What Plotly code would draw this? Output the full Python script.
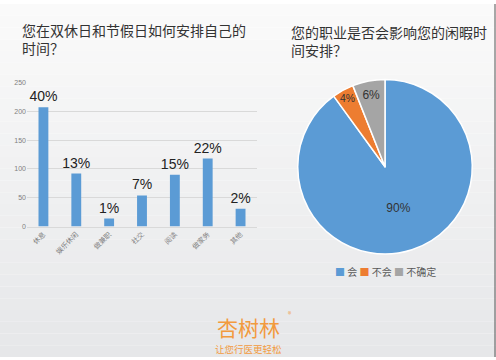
import plotly.graph_objects as go

# ---- data ----
bar_categories = ["休息", "娱乐休闲", "做兼职", "社交", "阅读", "做家务", "其他"]
bar_values = [207, 92, 14, 54, 90, 118, 31]
bar_percent_labels = ["40%", "13%", "1%", "7%", "15%", "22%", "2%"]
y_ticks = [0, 50, 100, 150, 200, 250]

pie_labels = ["会", "不会", "不确定"]
pie_values = [90, 4, 6]
pie_text = ["90%", "4%", "6%"]

left_title = "您在双休日和节假日如何安排自己的<br>时间？"
right_title = "您的职业是否会影响您的闲暇时<br>间安排？"

W, H = 496, 360
FONT = "Noto Sans CJK SC"
BLUE = "#5b9bd5"
ORANGE = "#ed7d31"
GRAY = "#a5a5a5"
PIE_COLORS = [BLUE, ORANGE, GRAY]
LOGO = "#f29a3e"

fig = go.Figure()

fig.add_trace(go.Bar(
    x=bar_categories, y=bar_values, text=bar_percent_labels,
    textposition="outside", constraintext="none", cliponaxis=False,
    textfont=dict(family="Liberation Sans", size=14, color="#222"),
    marker=dict(color=BLUE, line=dict(width=0)),
    width=0.3, showlegend=False, hoverinfo="skip",
))

fig.add_trace(go.Pie(
    labels=pie_labels, values=pie_values, text=pie_text,
    textinfo="text", textposition="inside", insidetextorientation="horizontal",
    sort=False, direction="clockwise", rotation=0,
    marker=dict(colors=PIE_COLORS, line=dict(color="white", width=1.5)),
    textfont=dict(family="Liberation Sans", size=12, color="#333"),
    domain=dict(x=[296 / W, 474 / W], y=[1 - 255 / H, 1 - 77 / H]),
    showlegend=False, hoverinfo="skip",
))

# background gradient bands
shapes = []
n = 30
top = (250, 250, 250)
bot = (230, 231, 233)
for i in range(n):
    t = i / (n - 1)
    c = tuple(int(round(top[k] + (bot[k] - top[k]) * t)) for k in range(3))
    shapes.append(dict(type="rect", xref="paper", yref="paper",
                       x0=0, x1=1, y0=1 - (i + 1) / n, y1=1 - i / n,
                       fillcolor="rgb(%d,%d,%d)" % c, line=dict(width=0), layer="below"))
# right edge border
shapes.append(dict(type="line", xref="paper", yref="paper", x0=1 - 1 / W, x1=1 - 1 / W,
                   y0=0, y1=1, line=dict(color="#555", width=1), layer="above"))

legend_text = "&nbsp;".join(
    "<span style='color:%s'>■</span> %s" % (c, l) for c, l in zip(PIE_COLORS, pie_labels)
)

annotations = [
    dict(text=left_title, x=20 / W, y=1 - 14 / H, xref="paper", yref="paper",
         xanchor="left", yanchor="top", align="left", showarrow=False,
         font=dict(family=FONT, size=14, color="#333")),
    dict(text=right_title, x=289 / W, y=1 - 16 / H, xref="paper", yref="paper",
         xanchor="left", yanchor="top", align="left", showarrow=False,
         font=dict(family=FONT, size=14, color="#333")),
    dict(text=legend_text, x=385 / W, y=1 - 273 / H, xref="paper", yref="paper",
         xanchor="center", yanchor="middle", showarrow=False,
         font=dict(family=FONT, size=10, color="#595959")),
    dict(text="杏树林", x=248 / W, y=1 - 329 / H, xref="paper", yref="paper",
         xanchor="center", yanchor="middle", showarrow=False,
         font=dict(family=FONT, size=21, color=LOGO)),
    dict(text="®", x=290 / W, y=1 - 316 / H, xref="paper", yref="paper",
         xanchor="center", yanchor="middle", showarrow=False,
         font=dict(family=FONT, size=7, color=LOGO)),
    dict(text="让您行医更轻松", x=248 / W, y=1 - 352 / H, xref="paper", yref="paper",
         xanchor="center", yanchor="middle", showarrow=False,
         font=dict(family=FONT, size=9.5, color=LOGO)),
]

fig.update_layout(
    width=W, height=H,
    margin=dict(l=0, r=0, t=0, b=0),
    paper_bgcolor="rgba(0,0,0,0)", plot_bgcolor="rgba(0,0,0,0)",
    font=dict(family=FONT, color="#595959"),
    showlegend=False,
    xaxis=dict(domain=[27 / W, 257 / W], tickangle=-45,
               tickfont=dict(family=FONT, size=7, color="#7f7f7f"),
               showgrid=False, showline=True, linecolor="#d9d9d9", linewidth=1,
               ticks="", fixedrange=True),
    yaxis=dict(domain=[1 - 227 / H, 1 - 80 / H], range=[0, 250], tickvals=y_ticks,
               tickfont=dict(family="Liberation Sans", size=7, color="#7f7f7f"),
               showgrid=True, gridcolor="#d9d9d9", gridwidth=1, zeroline=False,
               showline=False, ticks="", fixedrange=True),
    shapes=shapes,
    annotations=annotations,
)

fig.write_html("out.html", config={"displayModeBar": False},
               post_script="document.body.style.margin='0';")
